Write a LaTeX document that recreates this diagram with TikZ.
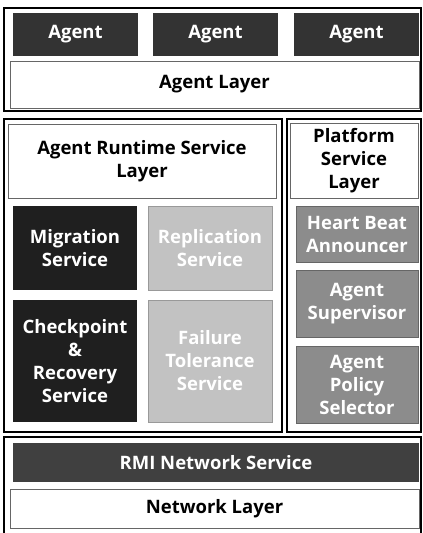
\documentclass[tikz,border=0pt]{standalone}
\usepackage{fontspec}
\setmainfont{Open Sans}
\begin{document}
\begin{tikzpicture}[x=1pt,y=-1pt,
  txt/.style={font=\bfseries\fontsize{18.5}{23}\selectfont,align=center},
  outer/.style={draw=black,line width=1.6pt},
  layer/.style={txt,draw=black!60,line width=0.5pt,fill=white,text=black},
  darkbox/.style={txt,fill=black!88,text=white},
  agentbox/.style={txt,fill=black!80,text=white},
  lightbox/.style={txt,fill=black!24,draw=black!40,line width=0.4pt,text=white},
  midbox/.style={txt,fill=black!45,draw=black!60,line width=0.4pt,text=white},
  rmibox/.style={txt,fill=black!75,text=white}]
\useasboundingbox (0,0) rectangle (423,533);
\fill[white] (0,0) rectangle (423,533);
% top group
\draw[outer] (4,8) rectangle (421,111);
\node[agentbox,minimum width=125pt,minimum height=43pt] (a1) at (75.5,34.5) {Agent};
\node[agentbox,minimum width=125pt,minimum height=43pt] (a2) at (215.5,34.5) {Agent};
\node[agentbox,minimum width=125pt,minimum height=43pt] (a3) at (356.5,34.5) {Agent};
\node[layer,minimum width=409pt,minimum height=47pt] (al) at (214.5,84.5) {Agent Layer};
% runtime group
\draw[outer] (4,119) rectangle (282,432);
\node[layer,minimum width=268pt,minimum height=74pt] (rl) at (142,161) {Agent Runtime Service\\Layer};
\node[darkbox,minimum width=124pt,minimum height=84pt] (mig) at (75,248) {Migration\\Service};
\node[lightbox,minimum width=124pt,minimum height=84pt] (rep) at (210,248) {Replication\\Service};
\node[darkbox,minimum width=124pt,minimum height=122pt] (chk) at (75,361) {Checkpoint\\\&\\Recovery\\Service};
\node[lightbox,minimum width=124pt,minimum height=122pt] (fail) at (210,361) {Failure\\Tolerance\\Service};
% platform group
\draw[outer] (287,119) rectangle (421,432);
\node[layer,minimum width=128pt,minimum height=75pt] (pl) at (354,160.5) {Platform\\Service\\Layer};
\node[midbox,minimum width=122pt,minimum height=56pt] (hb) at (357,234) {Heart Beat\\Announcer};
\node[midbox,minimum width=122pt,minimum height=67pt] (sup) at (357,303.5) {Agent\\Supervisor};
\node[midbox,minimum width=122pt,minimum height=77pt] (pol) at (357,384.5) {Agent\\Policy\\Selector};
% network group
\draw[outer] (4,437) rectangle (421,535);
\node[rmibox,minimum width=406pt,minimum height=39pt] (rmi) at (216,462.5) {RMI Network Service};
\node[layer,minimum width=409pt,minimum height=39pt] (nl) at (214.5,508.5) {Network Layer};
\end{tikzpicture}
\end{document}
